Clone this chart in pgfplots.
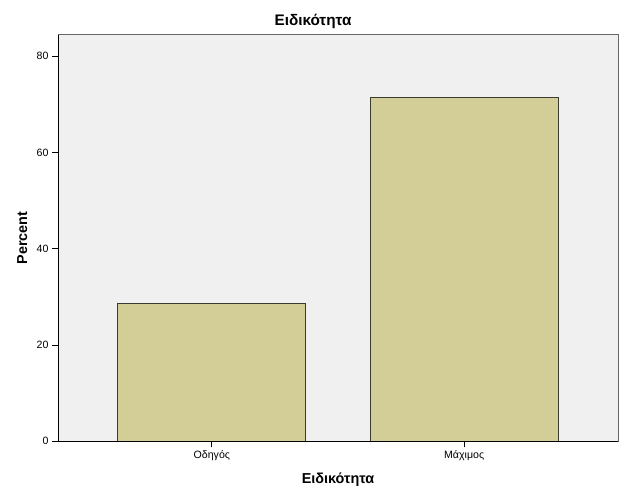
\documentclass[border=0pt]{standalone}
\usepackage{fontspec}
\setmainfont{Liberation Sans}
\usepackage{pgfplots}
\pgfplotsset{compat=1.18}
\usetikzlibrary{calc}
\definecolor{barfill}{HTML}{D3CE97}
\definecolor{baredge}{HTML}{3C3B32}
\definecolor{plotbg}{HTML}{F0F0F0}

\begin{document}
\begin{tikzpicture}
\begin{axis}[
    scale only axis,
    width=560pt, height=406.8pt,
    xmin=-0.61, xmax=1.61,
    ymin=0, ymax=84.5,
    xtick={0,1},
    xticklabels={Οδηγός, Μάχιμος},
    ytick={0,20,40,60,80},
    tick align=outside,
    xtick pos=bottom, ytick pos=left,
    major tick length=6pt,
    tick style={black, line width=0.8pt},
    tick label style={font=\fontsize{10.6}{12}\selectfont},
    /pgf/number format/assume math mode=true,
    axis background/.style={fill=plotbg},
    axis line style={draw=gray!80!black, line width=0.8pt},
    xlabel={\textbf{Ειδικότητα}},
    ylabel={\textbf{Percent}},
    label style={font=\fontsize{14.4}{16}\selectfont},
    xlabel style={at={(axis description cs:0.5,-0.095)}, anchor=center},
    ylabel style={at={(axis description cs:-0.064,0.5)}, anchor=center, rotate=0},
]
\addplot[ybar, bar width=0.745, fill=barfill, draw=baredge, line width=1pt]
    coordinates {(0,28.57) (1,71.43)};
\draw[black, line width=0.9pt] (rel axis cs:0,1) -- (rel axis cs:0,0) -- (rel axis cs:1,0);
\coordinate (O) at (rel axis cs:0,0);
\end{axis}
\node[font=\fontsize{15.3}{17}\selectfont\bfseries, anchor=center] at ($(O)+(255pt,420.3pt)$) {Ειδικότητα};
\pgfresetboundingbox
\path (O) ++(-58pt,-59.7pt) rectangle ++(626pt,501pt);
\end{tikzpicture}
\end{document}
